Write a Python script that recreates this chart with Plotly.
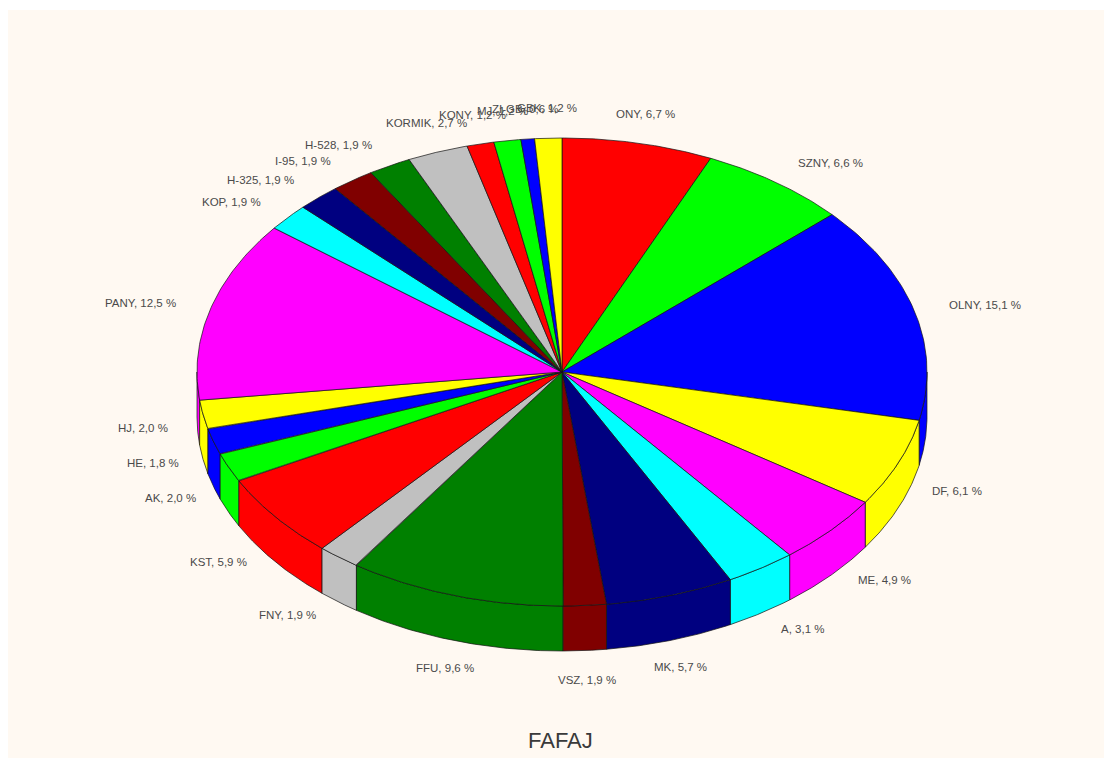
import numpy as np
import plotly.graph_objects as go

categories = ["ONY", "SZNY", "OLNY", "DF", "ME", "A", "MK", "VSZ", "FFU", "FNY", "KST", "AK",
              "HE", "HJ", "PANY", "KOP", "H-325", "I-95", "H-528", "KORMIK", "KONY", "MJ", "ZI-GB", "GBK"]
values = [6.7, 6.6, 15.1, 6.1, 4.9, 3.1, 5.7, 1.9, 9.6, 1.9, 5.9, 2.0,
          1.8, 2.0, 12.5, 1.9, 1.9, 1.9, 1.9, 2.7, 1.2, 1.2, 0.6, 1.2]
palette = ["#FF0000", "#00FF00", "#0000FF", "#FFFF00", "#FF00FF", "#00FFFF",
           "#000080", "#800000", "#008000", "#C0C0C0"]

# Projection of the tilted disc, in pixel-like axis units
CX, CY, RX, RY, DEPTH = 562, 372, 365, 234, 45
LABEL_RX, LABEL_RY_TOP, LABEL_RY_LOW = 399, 258, 307
OUTLINE = "rgba(20,20,20,0.7)"

fracs = np.array(values) / sum(values)
edges = np.concatenate([[0], np.cumsum(fracs)]) * 2 * np.pi


def rim(theta):
    return CX + RX * np.sin(theta), CY - RY * np.cos(theta)


fig = go.Figure()

# Outer wall: only the arc facing the viewer, drawn from the sides toward the front
walls = []
for i, (t0, t1) in enumerate(zip(edges[:-1], edges[1:])):
    lo, hi = max(t0, np.pi / 2), min(t1, 1.5 * np.pi)
    if hi > lo:
        walls.append((abs((lo + hi) / 2 - np.pi), i, lo, hi))
for _, i, lo, hi in sorted(walls, reverse=True):
    th = np.linspace(lo, hi, 60)
    x, y = rim(th)
    fig.add_trace(go.Scatter(
        x=np.concatenate([x, x[::-1], x[:1]]),
        y=np.concatenate([y, y[::-1] + DEPTH, y[:1]]),
        mode="lines", fill="toself", fillcolor=palette[i % 10],
        line=dict(color=OUTLINE, width=1), hoverinfo="skip", showlegend=False))

# Top face of each slice
for i, (t0, t1) in enumerate(zip(edges[:-1], edges[1:])):
    th = np.linspace(t0, t1, 60)
    x, y = rim(th)
    fig.add_trace(go.Scatter(
        x=np.concatenate([[CX], x, [CX]]),
        y=np.concatenate([[CY], y, [CY]]),
        mode="lines", fill="toself", fillcolor=palette[i % 10],
        line=dict(color=OUTLINE, width=1), hoverinfo="skip", showlegend=False))

# Slice labels sit on a wider ellipse around the disc; those near the vertical
# axis are centred and pushed clear of the rim
annotations = []
for i, (name, val) in enumerate(zip(categories, values)):
    mid = (edges[i] + edges[i + 1]) / 2
    s, c = np.sin(mid), np.cos(mid)
    centred = abs(s) < 0.4
    anchor = "center" if centred else ("left" if s > 0 else "right")
    ry = LABEL_RY_TOP if c > 0 else LABEL_RY_LOW
    nudge = 0
    if centred:
        nudge = 6 if c > 0 else -2
    annotations.append(dict(
        x=CX + LABEL_RX * s, y=CY - ry * c, xref="x", yref="y", yshift=nudge,
        text=f"{name}, {val:.1f} %".replace(".", ","), showarrow=False,
        xanchor=anchor, yanchor="middle",
        font=dict(family="Liberation Sans", size=11.5, color="#4a4a4a")))

annotations.append(dict(
    x=560, y=740, xref="x", yref="y", text="FAFAJ", showarrow=False,
    font=dict(family="Liberation Sans", size=22, color="#3a3a3a")))

fig.update_layout(
    width=1104, height=758, margin=dict(l=0, r=0, t=0, b=0),
    paper_bgcolor="white", plot_bgcolor="white",
    xaxis=dict(range=[0, 1104], visible=False, fixedrange=True),
    yaxis=dict(range=[758, 0], visible=False, fixedrange=True),
    annotations=annotations,
    shapes=[dict(type="rect", xref="x", yref="y", x0=8, y0=10, x1=1104, y1=758,
                 fillcolor="#FFF9F2", line_width=0, layer="below")],
)

fig.write_html("out.html", config=dict(displayModeBar=False))
